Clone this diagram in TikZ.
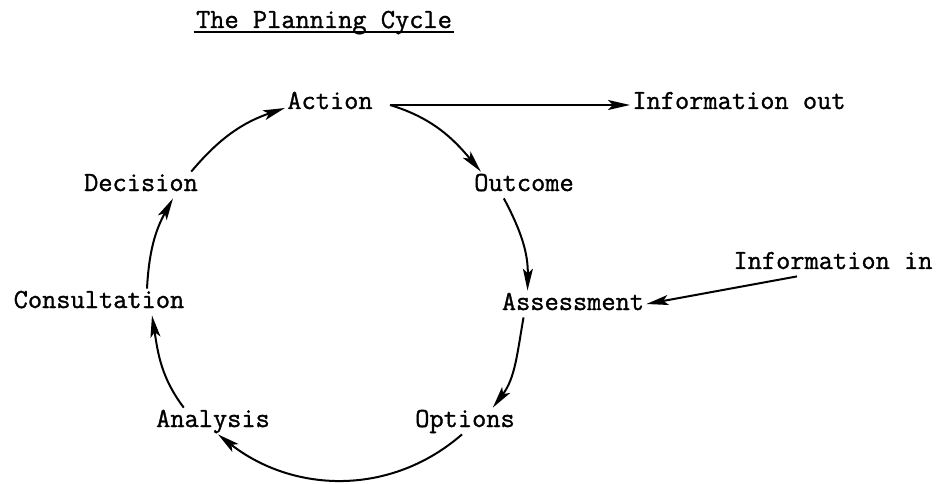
\documentclass[tikz,border=0pt]{standalone}
\usepackage{fontspec}
\setmonofont{Latin Modern Mono}[RawFeature={embolden=1.2}]
\usepackage{tikz}
\usetikzlibrary{arrows.meta}

\begin{document}
\begin{tikzpicture}[
        x=0.5pt, y=0.5pt,
        font=\ttfamily\fontsize{13.8}{16}\selectfont,
        stage/.style={inner sep=1pt, text height=8.5pt, text depth=2.5pt},
        flow/.style={-{Stealth[length=11pt, width=5pt, inset=2.5pt]}, line width=1pt}
    ]
        \useasboundingbox (0,0) rectangle (938,483);

        % Nodes
        \node (title) [stage] at (324,461) {The Planning Cycle};
        \node (action) [stage] at (330,380) {Action};
        \node (infoout) [stage] at (739,380) {Information out};
        \node (outcome) [stage] at (524,298) {Outcome};
        \node (decision) [stage] at (141,298) {Decision};
        \node (consultation) [stage] at (99,181) {Consultation};
        \node (assessment) [stage] at (573,179) {Assessment};
        \node (infoin) [stage] at (833,220) {Information in};
        \node (options) [stage] at (465,62) {Options};
        \node (analysis) [stage] at (213,62) {Analysis};
        \coordinate (split) at ([shift={(15,-2)}]action.east);

        % Title rule
        \draw [line width=0.6pt] ([yshift=-2pt]title.base west) -- ([yshift=-2pt]title.base east);

        % Arrows
        \draw [flow] (split) -- (split -| infoout.west);
        \draw [flow] (split) to[out=-17, in=130] ([shift={(9,0)}]outcome.north west);
        \draw [flow] ([shift={(32,0)}]outcome.south west) to[out=-62, in=89] ([shift={(28,0)}]assessment.north west);
        \draw [flow] ([shift={(24,0)}]assessment.south west) to[out=-100, in=53] ([shift={(80,0)}]options.north west);
        \draw [flow] ([shift={(-3,0)}]options.south) to[out=-139, in=-38] ([shift={(5,0)}]analysis.south);
        \draw [flow] ([shift={(30,0)}]analysis.north west) to[out=127, in=-81] ([shift={(53,0)}]consultation.south);
        \draw [flow] ([shift={(48,0)}]consultation.north) to[out=87, in=-119] ([shift={(32,0)}]decision.south);
        \draw [flow] ([shift={(-9,0)}]decision.north east) to[out=50, in=-161] ([shift={(0,-5)}]action.west);
        \draw [flow] ([shift={(-36,0)}]infoin.south) -- (assessment.east);
    \end{tikzpicture}
\end{document}
